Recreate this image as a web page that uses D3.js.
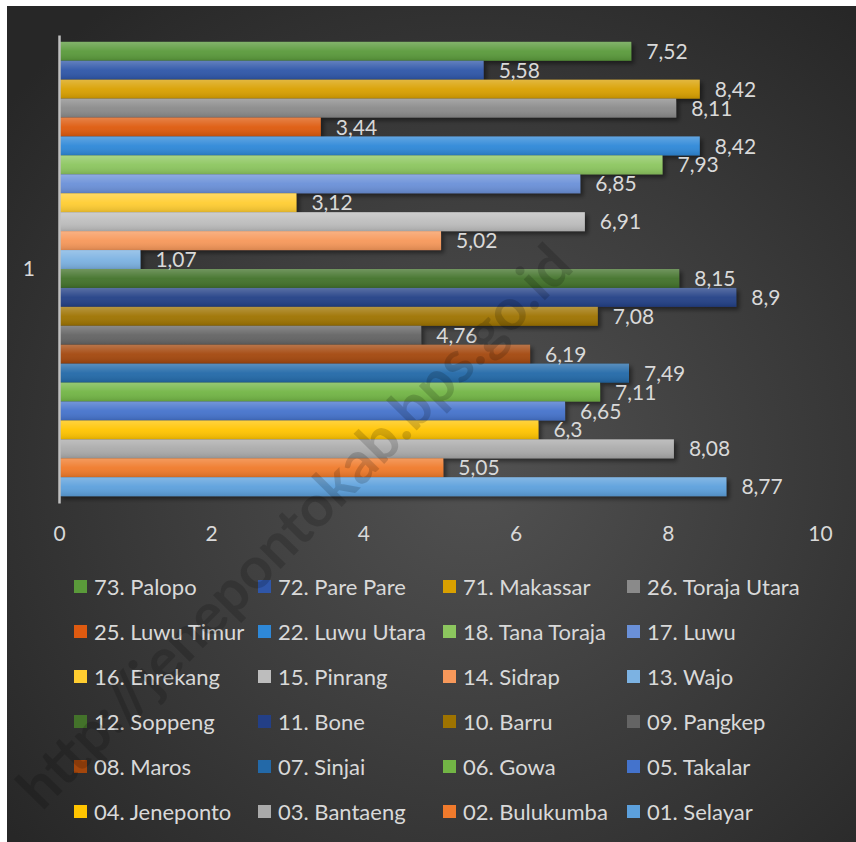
<!DOCTYPE html>
<meta charset="utf-8">
<script src="https://cdn.jsdelivr.net/npm/d3@7"></script>
<style>
body { margin: 0; background: #fff; }
text { font-family: Lato, "Open Sans", sans-serif; fill: #d9d9d9; }
</style>
<svg width="856" height="842"></svg>
<script>

// series, top to bottom as drawn
var regions = ["73. Palopo", "72. Pare Pare", "71. Makassar", "26. Toraja Utara",
    "25. Luwu Timur", "22. Luwu Utara", "18. Tana Toraja", "17. Luwu",
    "16. Enrekang", "15. Pinrang", "14. Sidrap", "13. Wajo",
    "12. Soppeng", "11. Bone", "10. Barru", "09. Pangkep",
    "08. Maros", "07. Sinjai", "06. Gowa", "05. Takalar",
    "04. Jeneponto", "03. Bantaeng", "02. Bulukumba", "01. Selayar"];
var values = [7.52, 5.58, 8.42, 8.11, 3.44, 8.42, 7.93, 6.85,
    3.12, 6.91, 5.02, 1.07, 8.15, 8.9, 7.08, 4.76,
    6.19, 7.49, 7.11, 6.65, 6.3, 8.08, 5.05, 8.77];
var colors = ["#5a9a3a", "#2f56a8", "#d9a000", "#8a8a8a",
    "#de5a10", "#2e88d8", "#8cc65e", "#6a90d8",
    "#ffcd30", "#bdbdbd", "#f7985a", "#7cb2e2",
    "#43722a", "#233f86", "#9e7300", "#646464",
    "#a3460c", "#2369a8", "#72b545", "#4473cc",
    "#ffc400", "#aaaaaa", "#f07a2c", "#5ca0dc"];
var category = ["1"];
var xTicks = [0, 2, 4, 6, 8, 10];

var svg = d3.select("svg");
var defs = svg.append("defs");

var bg = defs.append("radialGradient").attr("id", "bg")
    .attr("cx", "55%").attr("cy", "55%").attr("r", "70%");
bg.append("stop").attr("offset", "0%").attr("stop-color", "#525252");
bg.append("stop").attr("offset", "100%").attr("stop-color", "#272727");

var gloss = defs.append("linearGradient").attr("id", "gloss")
    .attr("x1", 0).attr("y1", 0).attr("x2", 0).attr("y2", 1);
gloss.append("stop").attr("offset", "0%").attr("stop-color", "#fff").attr("stop-opacity", 0.25);
gloss.append("stop").attr("offset", "50%").attr("stop-color", "#fff").attr("stop-opacity", 0.05);
gloss.append("stop").attr("offset", "100%").attr("stop-color", "#000").attr("stop-opacity", 0.12);

var shadow = defs.append("filter").attr("id", "shadow")
    .attr("x", "-5%").attr("y", "-50%").attr("width", "115%").attr("height", "220%");
shadow.append("feDropShadow").attr("dx", 3).attr("dy", 3).attr("stdDeviation", 2)
    .attr("flood-color", "#000").attr("flood-opacity", 0.45);

svg.append("rect").attr("x", 7).attr("y", 6).attr("width", 849).attr("height", 836)
    .attr("fill", "url(#bg)");

var x = d3.scaleLinear().domain([0, 10]).range([59, 820]);
var y0 = d3.scaleBand().domain(category).range([35, 503]).paddingInner(0).paddingOuter(0.015);
var y1 = d3.scaleBand().domain(regions).range([y0("1"), y0("1") + y0.bandwidth()]);

// bars
var bars = svg.append("g").selectAll("g")
    .data(regions)
    .enter().append("g");

bars.append("rect")
    .attr("x", x(0))
    .attr("y", function(d) { return y1(d); })
    .attr("width", function(d, i) { return x(values[i]) - x(0); })
    .attr("height", y1.bandwidth())
    .attr("fill", function(d, i) { return colors[i]; })
    .attr("filter", "url(#shadow)");

bars.append("rect")
    .attr("x", x(0))
    .attr("y", function(d) { return y1(d); })
    .attr("width", function(d, i) { return x(values[i]) - x(0); })
    .attr("height", y1.bandwidth())
    .attr("fill", "url(#gloss)");

// data labels
svg.append("g").selectAll("text")
    .data(regions)
    .enter().append("text")
    .attr("x", function(d, i) { return x(values[i]) + 15; })
    .attr("y", function(d) { return y1(d) + y1.bandwidth() / 2; })
    .attr("dy", "0.36em")
    .attr("font-size", 21)
    .text(function(d, i) { return String(values[i]).replace(".", ","); });

// value axis ticks (no line)
var xAxis = svg.append("g")
    .attr("transform", "translate(0,533)")
    .call(d3.axisBottom(x).tickValues(xTicks).tickSize(0).tickPadding(0));
xAxis.select(".domain").remove();
xAxis.selectAll("text")
    .attr("font-size", 21)
    .attr("fill", "#d9d9d9")
    .attr("dy", "0.36em");

// category axis
var yAxis = svg.append("g")
    .attr("transform", "translate(" + x(0) + ",0)")
    .call(d3.axisLeft(y0).tickSize(0).tickPadding(24));
yAxis.select(".domain").attr("stroke", "#bfbfbf").attr("stroke-width", 2.5);
yAxis.selectAll("text").attr("font-size", 21).attr("fill", "#d9d9d9");

// legend, 4 columns
var colX = [74, 258, 443, 627];
var legend = svg.append("g").selectAll("g")
    .data(regions)
    .enter().append("g")
    .attr("transform", function(d, i) {
        return "translate(" + colX[i % 4] + "," + (587 + Math.floor(i / 4) * 45) + ")";
    });
legend.append("rect")
    .attr("x", 0).attr("y", -7)
    .attr("width", 13).attr("height", 13)
    .attr("fill", function(d, i) { return colors[i]; });
legend.append("text")
    .attr("x", 20)
    .attr("dy", "0.36em")
    .attr("font-size", 22)
    .text(function(d) { return d; });

// watermark
svg.append("text")
    .attr("transform", "translate(42,812) rotate(-45.5)")
    .attr("font-size", 58)
    .attr("font-weight", "bold")
    .attr("font-family", "Liberation Sans, Arial, sans-serif")
    .style("fill", "rgba(0,0,0,0.16)")
    .text("http://jenepontokab.bps.go.id");

</script>
